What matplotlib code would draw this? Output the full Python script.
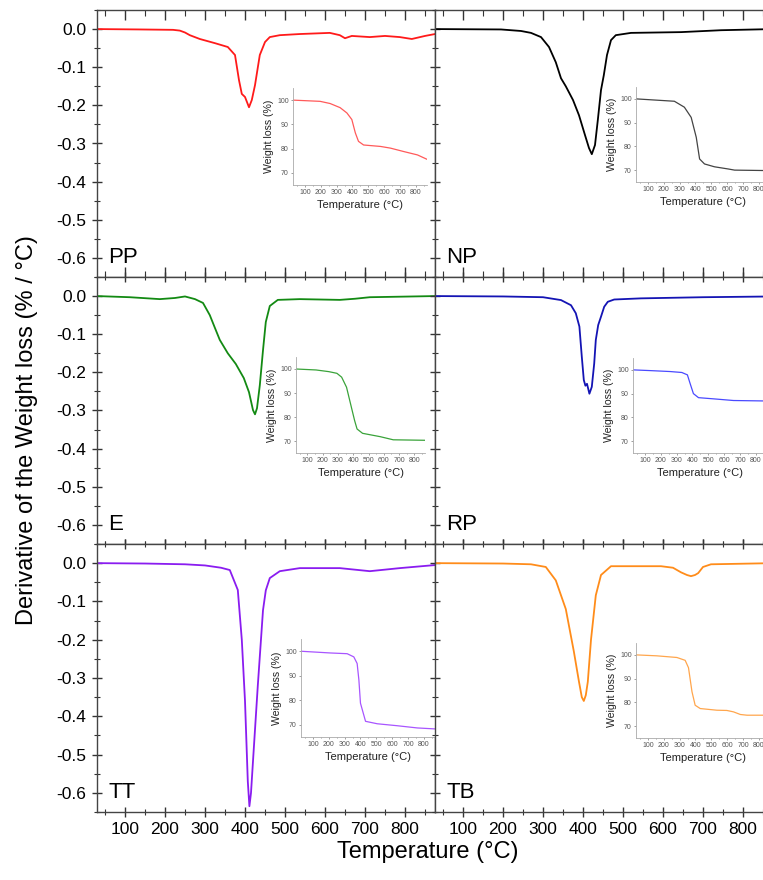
import matplotlib
matplotlib.use('Agg')
import matplotlib.pyplot as plt
from matplotlib.ticker import MultipleLocator

plt.rcParams['font.family'] = ['Liberation Sans', 'DejaVu Sans']

# ---- DTG curves (derivative of weight loss, %/°C) ----
pp_t = [30, 137, 220, 237, 250, 262, 287, 325, 357, 375, 385, 392, 400, 410, 417, 425, 437, 450,
        462, 487, 537, 612, 637, 650, 667, 712, 750, 787, 817, 850, 875]
pp_v = [0, -0.001, -0.002, -0.004, -0.009, -0.016, -0.026, -0.037, -0.047, -0.068, -0.134, -0.17,
        -0.178, -0.205, -0.186, -0.147, -0.068, -0.034, -0.021, -0.016, -0.013, -0.010, -0.016,
        -0.024, -0.018, -0.021, -0.018, -0.021, -0.026, -0.018, -0.013]

np_t = [32, 195, 245, 270, 295, 315, 332, 345, 357, 375, 390, 405, 415, 422, 430, 437, 445, 452,
        460, 470, 482, 520, 645, 745, 875]
np_v = [0, -0.001, -0.005, -0.01, -0.021, -0.047, -0.087, -0.129, -0.15, -0.186, -0.226, -0.278,
        -0.312, -0.328, -0.304, -0.239, -0.16, -0.121, -0.068, -0.029, -0.016, -0.010, -0.008,
        -0.003, 0]

e_t = [30, 112, 187, 225, 250, 275, 295, 312, 325, 337, 357, 377, 397, 410, 420, 425, 430, 437,
       445, 452, 462, 482, 537, 637, 675, 712, 875]
e_v = [0, -0.003, -0.008, -0.005, -0.001, -0.008, -0.018, -0.05, -0.084, -0.115, -0.15, -0.178,
       -0.215, -0.252, -0.299, -0.31, -0.294, -0.234, -0.142, -0.068, -0.026, -0.01, -0.008,
       -0.01, -0.007, -0.003, 0]

rp_t = [32, 200, 300, 345, 370, 382, 391, 397, 402, 406, 410, 416, 422, 428, 432, 438, 445, 453,
        462, 478, 545, 700, 875]
rp_v = [0, -0.001, -0.003, -0.0105, -0.024, -0.045, -0.08, -0.159, -0.220, -0.235, -0.230, -0.256,
        -0.238, -0.177, -0.115, -0.076, -0.054, -0.028, -0.015, -0.009, -0.006, -0.003, -0.001]

tt_t = [30, 150, 250, 300, 340, 362, 382, 392, 400, 407, 411, 415, 420, 432, 445, 452, 462, 487,
        537, 637, 712, 787, 875]
tt_v = [0, -0.001, -0.003, -0.006, -0.012, -0.018, -0.07, -0.2, -0.36, -0.57, -0.635, -0.6,
        -0.517, -0.32, -0.123, -0.071, -0.039, -0.021, -0.013, -0.013, -0.021, -0.013, -0.005]

tb_t = [32, 200, 270, 307, 332, 357, 377, 390, 397, 402, 407, 412, 420, 432, 445, 470, 520, 595,
        625, 645, 660, 670, 680, 688, 700, 720, 875]
tb_v = [0, -0.001, -0.003, -0.01, -0.045, -0.12, -0.23, -0.31, -0.35, -0.36, -0.345, -0.31, -0.2,
        -0.084, -0.031, -0.008, -0.008, -0.008, -0.012, -0.024, -0.031, -0.034, -0.031, -0.026,
        -0.01, -0.003, 0]

# ---- TG insets (weight loss, %) ----
pp_in_t = [25, 196, 259, 322, 365, 396, 418, 438, 470, 577, 640, 723, 810, 870]
pp_in_w = [100, 99.5, 98.6, 96.9, 94.7, 92, 86.5, 83, 81.5, 80.9, 80.2, 78.8, 77.4, 75.6]

np_in_t = [25, 267, 330, 373, 405, 426, 457, 520, 605, 647, 870]
np_in_w = [100, 99, 96.5, 92.2, 83.8, 74.7, 72.6, 71.4, 70.5, 70.0, 69.8]

e_in_t = [25, 156, 240, 293, 324, 356, 388, 409, 425, 461, 577, 662, 870]
e_in_w = [100, 99.6, 98.9, 98.2, 96.6, 92.4, 84, 78.5, 75, 73.2, 71.8, 70.5, 70.3]

rp_in_t = [25, 132, 259, 333, 368, 385, 406, 438, 533, 659, 870]
rp_in_w = [100, 99.7, 99.3, 98.9, 97.9, 94.3, 90.0, 88.3, 87.8, 87.1, 86.9]

tt_in_t = [25, 210, 316, 358, 379, 390, 400, 432, 506, 632, 758, 870]
tt_in_w = [100, 99.3, 99, 97.7, 95, 88.3, 78.8, 71.4, 70.4, 69.6, 68.7, 68.3]

tb_in_t = [25, 156, 283, 335, 356, 378, 398, 430, 535, 598, 640, 683, 725, 870]
tb_in_w = [100, 99.6, 98.9, 97.7, 94.6, 84.5, 78.8, 77.4, 76.7, 76.6, 76, 74.9, 74.6, 74.6]

names = ['PP', 'NP', 'E', 'RP', 'TT', 'TB']
colors = ['#ff1a1a', '#000000', '#138a13', '#1414b4', '#8a1cf0', '#ff8c1a']
in_colors = ['#ff5a5a', '#444444', '#3aa33a', '#4a4aff', '#a855ff', '#ffa64d']
main_t = [pp_t, np_t, e_t, rp_t, tt_t, tb_t]
main_v = [pp_v, np_v, e_v, rp_v, tt_v, tb_v]
in_t = [pp_in_t, np_in_t, e_in_t, rp_in_t, tt_in_t, tb_in_t]
in_w = [pp_in_w, np_in_w, e_in_w, rp_in_w, tt_in_w, tb_in_w]

W, H = 763, 880
# panel boxes in pixels: left, top, right, bottom
col_x = [(97, 435), (435, 773)]
row_y = [(10, 277), (277, 544), (544, 812)]
# inset boxes in pixels: left, top, right, bottom
inset_px = [(293, 88, 427, 185), (636, 87, 770, 182),
            (296, 357, 425, 453), (633, 358, 767, 453),
            (301, 639, 435, 737), (636, 643, 770, 738)]


def px_rect(l, t, r, b):
    return [l / W, 1 - b / H, (r - l) / W, (b - t) / H]


fig = plt.figure(figsize=(W / 100, H / 100), dpi=100)

for i, name in enumerate(names):
    row, col = divmod(i, 2)
    l, r = col_x[col]
    t, b = row_y[row]
    ax = fig.add_axes(px_rect(l, t, r, b))
    ax.plot(main_t[i], main_v[i], color=colors[i], lw=1.3)
    ax.set_xlim(30, 875)
    ax.set_ylim(-0.65, 0.05)
    ax.xaxis.set_minor_locator(MultipleLocator(50))
    ax.yaxis.set_minor_locator(MultipleLocator(0.05))
    ax.set_xticks(range(100, 900, 100))
    for s in ax.spines.values():
        s.set_color('#444444')
        s.set_linewidth(1.0)
    ax.tick_params(which='both', direction='inout', top=(row > 0), right=False,
                   color='#333333', labelsize=12.5, pad=4)
    ax.tick_params(which='major', length=7, width=1)
    ax.tick_params(which='minor', length=4, width=0.8)
    ax.tick_params(labelleft=(col == 0), labelbottom=(row == 2))
    if row == 0:
        ax.xaxis.set_tick_params(which='both', top=True, direction='in')
        ax.xaxis.set_tick_params(which='both', bottom=True)
    if col == 0:
        ax.set_yticks([0.0, -0.1, -0.2, -0.3, -0.4, -0.5, -0.6])
        ax.set_yticklabels(['0.0', '-0.1', '-0.2', '-0.3', '-0.4', '-0.5', '-0.6'])
    else:
        ax.set_yticks([0.0, -0.1, -0.2, -0.3, -0.4, -0.5, -0.6])
    ax.text(0.033, 0.072, name, transform=ax.transAxes, fontsize=16,
            ha='left', va='center')

    # inset TG curve
    axi = fig.add_axes(px_rect(*inset_px[i]))
    axi.set_facecolor('white')
    axi.plot(in_t[i], in_w[i], color=in_colors[i], lw=0.9)
    axi.set_xlim(25, 870)
    axi.set_ylim(65, 105)
    axi.set_xticks(range(100, 900, 100))
    axi.set_yticks([70, 80, 90, 100])
    axi.xaxis.set_minor_locator(MultipleLocator(50))
    for side in ['top', 'right']:
        axi.spines[side].set_visible(False)
    for side in ['left', 'bottom']:
        axi.spines[side].set_color('#aaaaaa')
        axi.spines[side].set_linewidth(0.6)
    axi.tick_params(which='both', direction='out', length=1.5, width=0.5,
                    color='#777777', labelsize=5, labelcolor='#555555', pad=1.5)
    axi.tick_params(which='minor', length=1)
    axi.set_xlabel('Temperature (°C)', fontsize=8, labelpad=3, color='#222222')
    axi.set_ylabel('Weight loss (%)', fontsize=7.6, labelpad=2, color='#222222')

fig.text(27 / W, 1 - 430 / H, 'Derivative of the Weight loss (% / °C)',
         rotation=90, fontsize=17, ha='center', va='center')
fig.text(428 / W, 1 - 852 / H, 'Temperature (°C)', fontsize=17,
         ha='center', va='center')

fig.savefig('out.png', dpi=100, facecolor='white')
